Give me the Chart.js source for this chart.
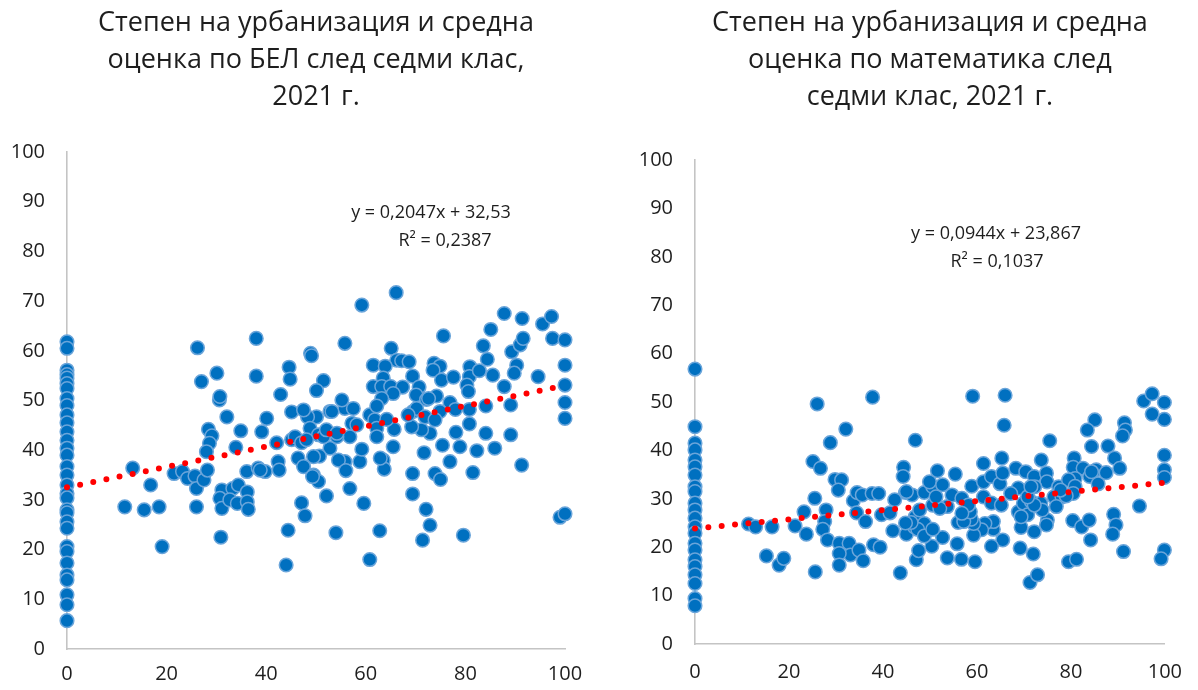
<!DOCTYPE html>
<html>
<head>
<meta charset="utf-8">
<script src="https://cdn.jsdelivr.net/npm/chart.js@4.4.1/dist/chart.umd.min.js"></script>
<style>
html,body{margin:0;padding:0;background:#fff;width:1198px;height:690px;overflow:hidden}
.box{position:absolute;top:0;width:599px;height:690px}
</style>
</head>
<body>
<div class="box" style="left:0"><canvas id="c1" width="599" height="690"></canvas></div>
<div class="box" style="left:599px"><canvas id="c2" width="599" height="690"></canvas></div>
<script>
// ---------- DATA ----------
const belTitle = ["Степен на урбанизация и средна", "оценка по БЕЛ след седми клас,", "2021 г."];
const mathTitle = ["Степен на урбанизация и средна", "оценка по математика след", "седми клас, 2021 г."];

const belEquation = ["y = 0,2047x + 32,53", "R² = 0,2387"];
const mathEquation = ["y = 0,0944x + 23,867", "R² = 0,1037"];

const xTicks = [0, 20, 40, 60, 80, 100];
const yTicks = [0, 10, 20, 30, 40, 50, 60, 70, 80, 90, 100];

// trend line end points (x = 0 and x = 100)
const trendX = [0, 100];
const belTrendY = [32.53, 53.0];
const mathTrendY = [23.87, 33.31];

// BEL: municipalities with 0 % urbanization
const belZeroY = [61.8, 60.5, 56.1, 55.2, 54.5, 53.4, 52.4, 50.4, 49.0, 47.1, 45.5, 43.7, 42.0, 40.4, 39.0, 36.7,
  35.0, 33.0, 31.3, 30.4, 28.0, 27.4, 25.6, 24.3, 20.6, 19.6, 17.3, 14.9, 13.9, 10.9, 8.9, 5.7];
// BEL: other municipalities [urbanization, score]
const belX = [13.2, 11.6, 15.5, 16.8, 18.5, 19.1, 21.5, 23.2, 24.2, 25.7, 26.0, 26.0, 27.5, 28.2, 28.4, 29.1, 28.6, 28.0,
  30.6, 32.1, 31.1, 30.7, 31.1, 30.9, 33.3, 32.7, 34.4, 34.2, 36.2, 36.2, 36.4, 34.9, 33.9, 36.1, 38.4, 39.8, 39.1, 40.1,
  42.1, 42.4, 42.6, 44.4, 44.0, 45.1, 45.1, 46.4, 26.2, 27.0, 30.1, 30.7, 38.0, 38.0, 44.6, 44.8, 42.9, 66.1, 59.2, 55.8,
  48.9, 49.1, 51.5, 50.1, 65.1, 66.2, 67.2, 68.7, 61.5, 63.9, 63.5, 61.5, 63.2, 65.0, 67.4, 65.5, 63.2, 69.4, 70.7, 70.1,
  75.6, 73.7, 74.9, 73.5, 75.2, 77.6, 72.2, 74.2, 80.9, 80.8, 80.3, 80.6, 82.8, 83.6, 84.4, 85.1, 85.5, 87.8, 89.3, 90.3,
  89.8, 91.0, 91.6, 91.4, 87.8, 89.1, 94.6, 95.5, 97.3, 97.5, 100, 100, 100, 100, 100, 84.1, 80.8, 80.8, 84.1, 89.1,
  85.9, 82.3, 78.9, 78.1, 76.9, 75.4, 76.9, 78.0, 74.9, 81.5, 91.3, 73.9, 69.4, 71.7, 72.9, 71.2, 69.2, 69.5, 70.2, 68.5,
  72.6, 71.9, 73.9, 65.7, 65.5, 63.5, 63.7, 60.8, 61.8, 62.2, 62.2, 64.2, 62.2, 58.8, 59.2, 57.2, 58.2, 56.8, 55.8, 55.2,
  57.5, 55.8, 54.5, 56.0, 52.8, 54.2, 52.8, 50.1, 48.3, 47.5, 48.8, 50.5, 51.5, 45.8, 47.1, 48.1, 50.7, 47.5, 49.5, 47.1,
  47.8, 52.1, 54.0, 56.8, 59.6, 60.8, 62.8, 49.5, 50.5, 49.3, 38.8, 62.9, 52.1, 54.2, 75.0, 69.4, 72.1, 72.9, 71.4, 79.6,
  99.0, 100, 53.2];
const belY = [36.4, 28.6, 28.0, 33.0, 28.6, 20.6, 35.3, 35.7, 34.3, 34.8, 32.3, 28.6, 34.0, 36.0, 44.2, 42.9, 41.4, 39.7,
  50.1, 46.7, 32.0, 30.3, 28.3, 22.5, 32.3, 30.0, 33.0, 29.3, 31.6, 29.6, 28.1, 43.9, 40.6, 35.7, 36.4, 35.7, 43.7, 46.4,
  41.5, 37.7, 36.0, 23.9, 16.9, 47.7, 42.1, 38.4, 60.6, 53.8, 55.5, 50.8, 62.5, 54.9, 56.7, 54.3, 51.2, 71.7, 69.2, 61.5,
  59.5, 59.0, 54.0, 52.0, 60.5, 58.1, 58.0, 57.8, 57.1, 56.9, 54.5, 52.8, 52.8, 52.8, 52.7, 51.4, 50.4, 54.9, 52.7, 51.1,
  63.0, 57.5, 56.9, 56.1, 54.1, 54.7, 50.2, 50.9, 56.8, 54.8, 53.1, 51.8, 56.0, 61.0, 58.3, 64.3, 55.1, 67.5, 59.8, 57.1,
  55.5, 61.2, 62.5, 66.5, 52.8, 49.1, 54.8, 65.4, 66.9, 62.5, 62.2, 57.1, 53.1, 49.6, 46.4, 48.9, 48.2, 45.3, 43.4, 43.1,
  40.4, 39.9, 40.7, 43.6, 37.7, 41.0, 49.6, 48.2, 47.8, 35.5, 37.0, 35.3, 35.3, 39.5, 43.4, 44.1, 44.7, 47.8, 48.4, 47.1,
  50.4, 46.7, 46.1, 44.2, 40.7, 38.0, 36.2, 47.1, 46.1, 44.4, 42.7, 46.2, 48.9, 37.7, 40.2, 45.4, 45.1, 42.7, 48.4, 50.1,
  48.4, 37.7, 38.0, 35.9, 40.4, 42.7, 47.8, 46.7, 46.7, 48.1, 44.4, 43.1, 42.7, 42.7, 41.5, 42.1, 38.8, 36.7, 35.0, 29.4,
  26.8, 30.8, 23.4, 32.3, 29.3, 18.0, 23.8, 38.7, 33.7, 34.7, 36.0, 38.4, 44.1, 43.4, 34.1, 31.2, 28.1, 24.9, 21.9, 22.9,
  26.5, 27.2, 47.8];

// Math: municipalities with 0 % urbanization
const mathZeroY = [56.8, 44.9, 41.5, 40.1, 38.0, 36.6, 34.9, 32.5, 31.5, 29.1, 27.7, 26.0, 24.2, 22.9, 20.8, 19.4,
  17.4, 16.0, 14.3, 12.5, 9.4, 7.9];
// Math: other municipalities
const mathX = [11.4, 12.9, 16.4, 15.2, 17.9, 18.9, 21.3, 23.7, 23.2, 25.6, 25.5, 26.0, 25.1, 26.7, 28.8, 32.1, 29.8, 31.2,
  30.5, 27.9, 27.6, 27.2, 28.2, 30.7, 32.8, 33.1, 30.7, 30.7, 34.9, 35.8, 38.0, 39.4, 33.7, 34.5, 35.6, 37.7, 39.1, 34.4,
  36.3, 37.8, 39.7, 41.5, 42.1, 43.7, 44.4, 44.3, 44.8, 46.2, 42.5, 45.0, 46.9, 47.1, 46.9, 46.7, 59.1, 66.0, 65.8, 75.5,
  85.1, 83.5, 84.4, 87.9, 91.4, 91.6, 91.0, 89.3, 90.4, 95.5, 97.3, 99.9, 99.9, 97.3, 99.9, 99.9, 99.9, 94.6, 89.1, 89.6,
  88.9, 91.2, 99.9, 99.2, 80.4, 82.3, 83.9, 84.2, 79.5, 81.2, 71.3, 72.9, 72.0, 69.2, 72.2, 69.4, 75.0, 74.8, 65.5, 63.1,
  63.5, 63.5, 61.7, 61.0, 59.3, 59.3, 59.6, 56.7, 53.7, 55.8, 58.8, 56.0, 57.2, 52.7, 50.4, 47.6, 48.8, 47.4, 48.8, 46.0,
  50.6, 45.0, 48.8, 50.6, 49.9, 52.7, 51.6, 55.4, 47.8, 50.6, 53.7, 54.7, 56.8, 58.6, 58.2, 58.9, 61.4, 61.4, 63.1, 64.9,
  65.5, 65.3, 61.4, 63.1, 65.2, 68.3, 70.4, 72.2, 68.8, 67.2, 68.8, 69.9, 71.6, 73.6, 73.9, 70.8, 73.7, 74.8, 74.9, 72.3,
  77.4, 76.4, 78.1, 76.9, 80.7, 80.5, 82.6, 84.0, 80.9, 79.5, 80.9, 80.5, 85.4, 87.5, 85.8, 79.0, 77.8, 44.8, 84.4, 72.2,
  70.8, 71.5, 69.4, 56.8, 52.1, 51.3];
const mathY = [24.8, 24.2, 24.2, 18.2, 16.3, 17.7, 24.4, 22.7, 27.3, 14.9, 30.1, 49.6, 37.7, 36.3, 41.6, 44.4, 34.0, 33.9,
  31.8, 27.7, 25.3, 23.7, 21.5, 20.8, 20.8, 18.4, 18.7, 16.3, 19.4, 17.2, 20.5, 20.0, 29.6, 31.3, 30.8, 31.1, 31.1, 27.1,
  25.3, 51.0, 26.7, 27.1, 23.4, 14.7, 36.5, 34.6, 31.3, 30.8, 29.8, 22.7, 42.1, 17.4, 26.3, 24.2, 51.2, 51.4, 45.2, 42.0,
  46.3, 44.2, 40.8, 40.9, 45.7, 44.2, 43.0, 38.4, 36.3, 50.2, 51.7, 49.9, 46.4, 47.5, 39.0, 36.0, 34.4, 28.5, 26.8, 24.6,
  22.7, 19.1, 19.4, 17.6, 25.5, 24.2, 25.6, 21.5, 17.0, 17.5, 12.7, 14.3, 18.6, 19.8, 23.2, 24.1, 25.6, 24.6, 21.5, 20.2,
  23.7, 25.3, 24.9, 23.6, 22.5, 24.9, 17.0, 17.5, 17.8, 20.7, 25.8, 25.1, 25.3, 22.0, 20.2, 19.3, 24.9, 23.7, 22.3, 25.1,
  23.7, 31.5, 31.3, 32.5, 33.5, 32.9, 35.8, 35.1, 27.7, 28.7, 28.4, 30.8, 30.1, 27.3, 28.7, 32.6, 33.5, 37.3, 34.6, 33.1,
  35.3, 38.4, 30.4, 29.1, 28.7, 36.3, 35.6, 34.6, 32.2, 31.1, 27.3, 29.1, 29.4, 29.1, 27.7, 26.7, 38.0, 35.3, 33.5, 32.5,
  32.5, 30.4, 30.4, 28.4, 38.4, 36.5, 36.3, 34.6, 34.2, 33.9, 32.6, 31.1, 36.0, 35.4, 33.1, 30.6, 31.8, 25.0, 35.6, 28.7,
  30.4, 32.5, 26.3, 27.0, 28.0, 30.4];

// ---------- CHART ----------
const FONT = "'Open Sans', 'Noto Sans', 'DejaVu Sans', sans-serif";
const TEXT = '#1e1e1e';

function toPoints(xs, ys) { return xs.map((x, i) => ({x: x, y: ys[i]})); }

const equationPlugin = {
  id: 'equation',
  afterDatasetsDraw(chart, args, opts) {
    const ctx = chart.ctx, a = chart.chartArea;
    ctx.save();
    ctx.font = opts.size + 'px ' + FONT;
    ctx.fillStyle = TEXT;
    ctx.textAlign = 'center';
    ctx.textBaseline = 'middle';
    opts.lines.forEach((t, i) => ctx.fillText(t, a.left + opts.pos[i][0], a.top + opts.pos[i][1]));
    ctx.restore();
  }
};

function makeChart(id, cfg) {
  const pts = toPoints(cfg.zeroY.map(() => 0), cfg.zeroY).concat(toPoints(cfg.xs, cfg.ys));
  return new Chart(document.getElementById(id), {
    type: 'scatter',
    data: {
      datasets: [
        {
          data: toPoints(trendX, cfg.trendY),
          showLine: true,
          borderColor: '#FF0000',
          borderWidth: 6,
          borderDash: [0, 13.4],
          borderCapStyle: 'round',
          pointRadius: 0,
          order: 0,
          clip: false
        },
        {
          data: pts,
          backgroundColor: '#0070C0',
          borderColor: '#6AA5DA',
          borderWidth: 1.5,
          pointRadius: 6.8,
          order: 1,
          clip: false
        }
      ]
    },
    options: {
      responsive: false,
      animation: false,
      events: [],
      layout: {padding: {left: 0, right: cfg.padR, top: 0, bottom: 0}},
      plugins: {
        legend: {display: false},
        tooltip: {enabled: false},
        title: {
          display: true,
          fullSize: false,
          text: cfg.title,
          color: TEXT,
          font: {family: FONT, size: 27, weight: 'normal', lineHeight: 37 / 27},
          padding: {top: 4.5, bottom: cfg.titleBottom}
        },
        equation: {lines: cfg.eq, pos: cfg.eqPos, size: 18}
      },
      scales: {
        x: {
          type: 'linear', min: 0, max: 100,
          afterBuildTicks(s) { s.ticks = xTicks.map(v => ({value: v})); },
          ticks: {color: TEXT, font: {family: FONT, size: 20}, padding: cfg.xPad, maxRotation: 0},
          grid: {display: false, drawTicks: false},
          border: {display: true, color: '#C4C4C4', width: 1.6},
          afterFit(s) { s.height = cfg.xH; }
        },
        y: {
          type: 'linear', min: 0, max: 100,
          afterBuildTicks(s) { s.ticks = yTicks.map(v => ({value: v})); },
          ticks: {color: TEXT, font: {family: FONT, size: 20}, padding: 22},
          grid: {display: false, drawTicks: false},
          border: {display: true, color: '#C4C4C4', width: 1.6},
          afterFit(s) { s.width = cfg.yW; }
        }
      }
    },
    plugins: [equationPlugin]
  });
}

makeChart('c1', {
  title: belTitle, zeroY: belZeroY, xs: belX, ys: belY, trendY: belTrendY, eq: belEquation,
  eqPos: [[364, 61], [378, 89]],
  padR: 34, yW: 67, xH: 41, xPad: 13, titleBottom: 36.5
});
makeChart('c2', {
  title: mathTitle, zeroY: mathZeroY, xs: mathX, ys: mathY, trendY: mathTrendY, eq: mathEquation,
  eqPos: [[301, 74], [302, 102]],
  padR: 25, yW: 96, xH: 46, xPad: 16, titleBottom: 44.5
});
</script>
</body>
</html>
